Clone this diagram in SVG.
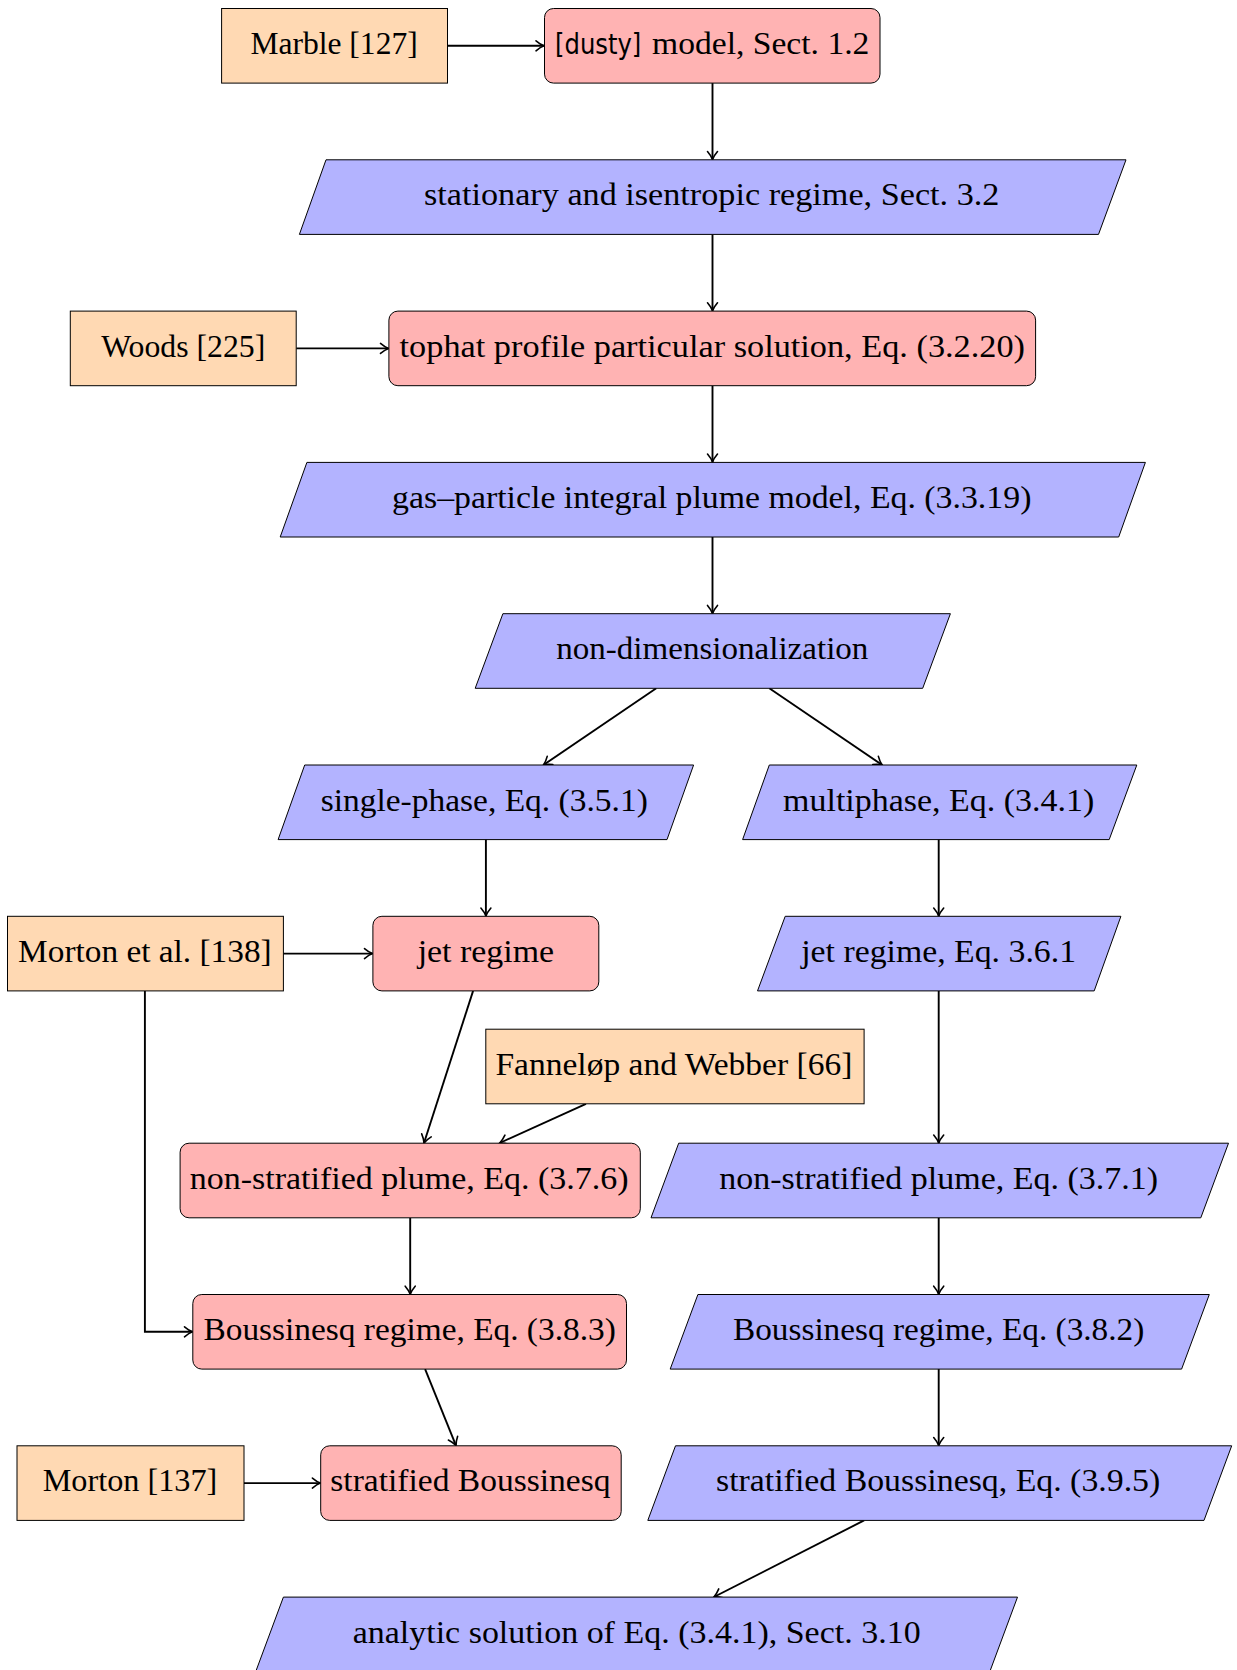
<svg xmlns="http://www.w3.org/2000/svg" width="1237" height="1670" viewBox="0 0 1237 1670">
<style>
.o{fill:#FFD9B3;stroke:#000;stroke-width:1}
.r{fill:#FFB3B3;stroke:#000;stroke-width:1}
.b{fill:#B3B3FF;stroke:#000;stroke-width:1}
text{font-family:"Liberation Serif","Times New Roman",serif;font-size:31px;fill:#000;text-anchor:middle}
.sans{font-family:"DejaVu Sans","Liberation Sans",sans-serif;font-size:28px}
.e{fill:none;stroke:#000;stroke-width:1.9;marker-end:url(#ah)}
</style>
<defs>
<marker id="ah" markerUnits="userSpaceOnUse" markerWidth="14" markerHeight="12" viewBox="-9 -6 10 12" refX="0" refY="0" orient="auto" overflow="visible">
<path d="M -8 -5 Q -3.5 -1.2 0 0 Q -3.5 1.2 -8 5" fill="none" stroke="#000" stroke-width="1.6" stroke-linecap="round"/>
</marker>
</defs>
<rect width="1237" height="1670" fill="#fff"/>
<g id="connectors">
<path class="e" d="M447.5 45.8 H544"/>
<path class="e" d="M712.5 83.1 V159.5"/>
<path class="e" d="M712.5 234.4 V310.8"/>
<path class="e" d="M296.2 348.4 H388.5"/>
<path class="e" d="M712.5 385.7 V462.1"/>
<path class="e" d="M712.5 537 V613.4"/>
<path class="e" d="M656.3 688.3 L543.4 765"/>
<path class="e" d="M769.3 688.3 L882.2 765"/>
<path class="e" d="M485.9 839.6 V916"/>
<path class="e" d="M938.7 839.6 V916"/>
<path class="e" d="M283.4 953.6 H372.5"/>
<path class="e" d="M144.9 990.9 V1331.8 H192.5"/>
<path class="e" d="M473.1 990.9 L424 1143"/>
<path class="e" d="M586 1103.8 L499.7 1143"/>
<path class="e" d="M938.7 990.9 V1143"/>
<path class="e" d="M410.2 1217.8 V1294.2"/>
<path class="e" d="M938.7 1217.8 V1294.2"/>
<path class="e" d="M425.1 1369.1 L456 1445.6"/>
<path class="e" d="M244 1483.1 H320.4"/>
<path class="e" d="M938.7 1369.1 V1445.6"/>
<path class="e" d="M864.1 1520.4 L713.9 1597"/>
</g>
<g id="marble"><rect class="o" x="221.6" y="8.5" width="225.9" height="74.6"/><text x="334.05" y="54" textLength="167.3" lengthAdjust="spacingAndGlyphs">Marble [127]</text></g>
<g id="dusty"><rect class="r" x="544.5" y="8.5" width="335.5" height="74.6" rx="9"/><text class="sans" x="598.2" y="54" textLength="86.3" lengthAdjust="spacingAndGlyphs">[dusty]</text><text x="760.7" y="54" textLength="217.4" lengthAdjust="spacingAndGlyphs">model, Sect. 1.2</text></g>
<g id="stationary"><polygon class="b" points="326,159.8 1126,159.8 1098.5,234.4 299.4,234.4"/><text x="711.7" y="205.3" textLength="575.4" lengthAdjust="spacingAndGlyphs">stationary and isentropic regime, Sect. 3.2</text></g>
<g id="woods"><rect class="o" x="70.3" y="311.1" width="225.9" height="74.6"/><text x="183.25" y="356.6" textLength="164.1" lengthAdjust="spacingAndGlyphs">Woods [225]</text></g>
<g id="tophat"><rect class="r" x="388.9" y="311.1" width="646.7" height="74.6" rx="9"/><text x="712.3" y="356.6" textLength="625.4" lengthAdjust="spacingAndGlyphs">tophat profile particular solution, Eq. (3.2.20)</text></g>
<g id="gasparticle"><polygon class="b" points="306.9,462.4 1145.4,462.4 1118.7,537 280.2,537"/><text x="711.75" y="507.9" textLength="639.3" lengthAdjust="spacingAndGlyphs">gas–particle integral plume model, Eq. (3.3.19)</text></g>
<g id="nondim"><polygon class="b" points="502.9,613.7 950.4,613.7 922.7,688.3 475.2,688.3"/><text x="712.3" y="659.2" textLength="312.2" lengthAdjust="spacingAndGlyphs">non-dimensionalization</text></g>
<g id="singlephase"><polygon class="b" points="304.7,765 693.6,765 667,839.6 278.1,839.6"/><text x="484.25" y="810.5" textLength="327.1" lengthAdjust="spacingAndGlyphs">single-phase, Eq. (3.5.1)</text></g>
<g id="multiphase"><polygon class="b" points="769.3,765 1136.8,765 1109.2,839.6 742.6,839.6"/><text x="938.65" y="810.5" textLength="311.1" lengthAdjust="spacingAndGlyphs">multiphase, Eq. (3.4.1)</text></g>
<g id="morton138"><rect class="o" x="7.5" y="916.3" width="275.9" height="74.6"/><text x="144.9" y="961.8" textLength="253.6" lengthAdjust="spacingAndGlyphs">Morton et al. [138]</text></g>
<g id="jetred"><rect class="r" x="372.9" y="916.3" width="225.9" height="74.6" rx="9"/><text x="485.85" y="961.8" textLength="136.4" lengthAdjust="spacingAndGlyphs">jet regime</text></g>
<g id="jetblue"><polygon class="b" points="785.2,916.3 1120.9,916.3 1094.2,990.9 757.5,990.9"/><text x="938.65" y="961.8" textLength="274.9" lengthAdjust="spacingAndGlyphs">jet regime, Eq. 3.6.1</text></g>
<g id="fannelop"><rect class="o" x="485.8" y="1029.2" width="378.3" height="74.6"/><text x="673.9" y="1074.7" textLength="357" lengthAdjust="spacingAndGlyphs">Fanneløp and Webber [66]</text></g>
<g id="nonstratred"><rect class="r" x="180.1" y="1143.2" width="460.2" height="74.6" rx="9"/><text x="409.15" y="1188.7" textLength="439" lengthAdjust="spacingAndGlyphs">non-stratified plume, Eq. (3.7.6)</text></g>
<g id="nonstratblue"><polygon class="b" points="678.7,1143.2 1228.5,1143.2 1200.8,1217.8 651,1217.8"/><text x="938.7" y="1188.7" textLength="439" lengthAdjust="spacingAndGlyphs">non-stratified plume, Eq. (3.7.1)</text></g>
<g id="boussred"><rect class="r" x="192.8" y="1294.5" width="433.7" height="74.6" rx="9"/><text x="409.65" y="1340" textLength="412.3" lengthAdjust="spacingAndGlyphs">Boussinesq regime, Eq. (3.8.3)</text></g>
<g id="boussblue"><polygon class="b" points="697.9,1294.5 1209.3,1294.5 1181.6,1369.1 670.2,1369.1"/><text x="938.65" y="1340" textLength="411.3" lengthAdjust="spacingAndGlyphs">Boussinesq regime, Eq. (3.8.2)</text></g>
<g id="morton137"><rect class="o" x="17" y="1445.8" width="227" height="74.6"/><text x="130" y="1491.3" textLength="174.7" lengthAdjust="spacingAndGlyphs">Morton [137]</text></g>
<g id="stratred"><rect class="r" x="320.7" y="1445.8" width="300.5" height="74.6" rx="9"/><text x="470.4" y="1491.3" textLength="280.2" lengthAdjust="spacingAndGlyphs">stratified Boussinesq</text></g>
<g id="stratblue"><polygon class="b" points="675.5,1445.8 1231.7,1445.8 1204,1520.4 647.8,1520.4"/><text x="938.15" y="1491.3" textLength="444.3" lengthAdjust="spacingAndGlyphs">stratified Boussinesq, Eq. (3.9.5)</text></g>
<g id="analytic"><polygon class="b" points="283.4,1597.1 1017.5,1597.1 989.8,1671.7 255.7,1671.7"/><text x="636.65" y="1642.6" textLength="568" lengthAdjust="spacingAndGlyphs">analytic solution of Eq. (3.4.1), Sect. 3.10</text></g>
</svg>
